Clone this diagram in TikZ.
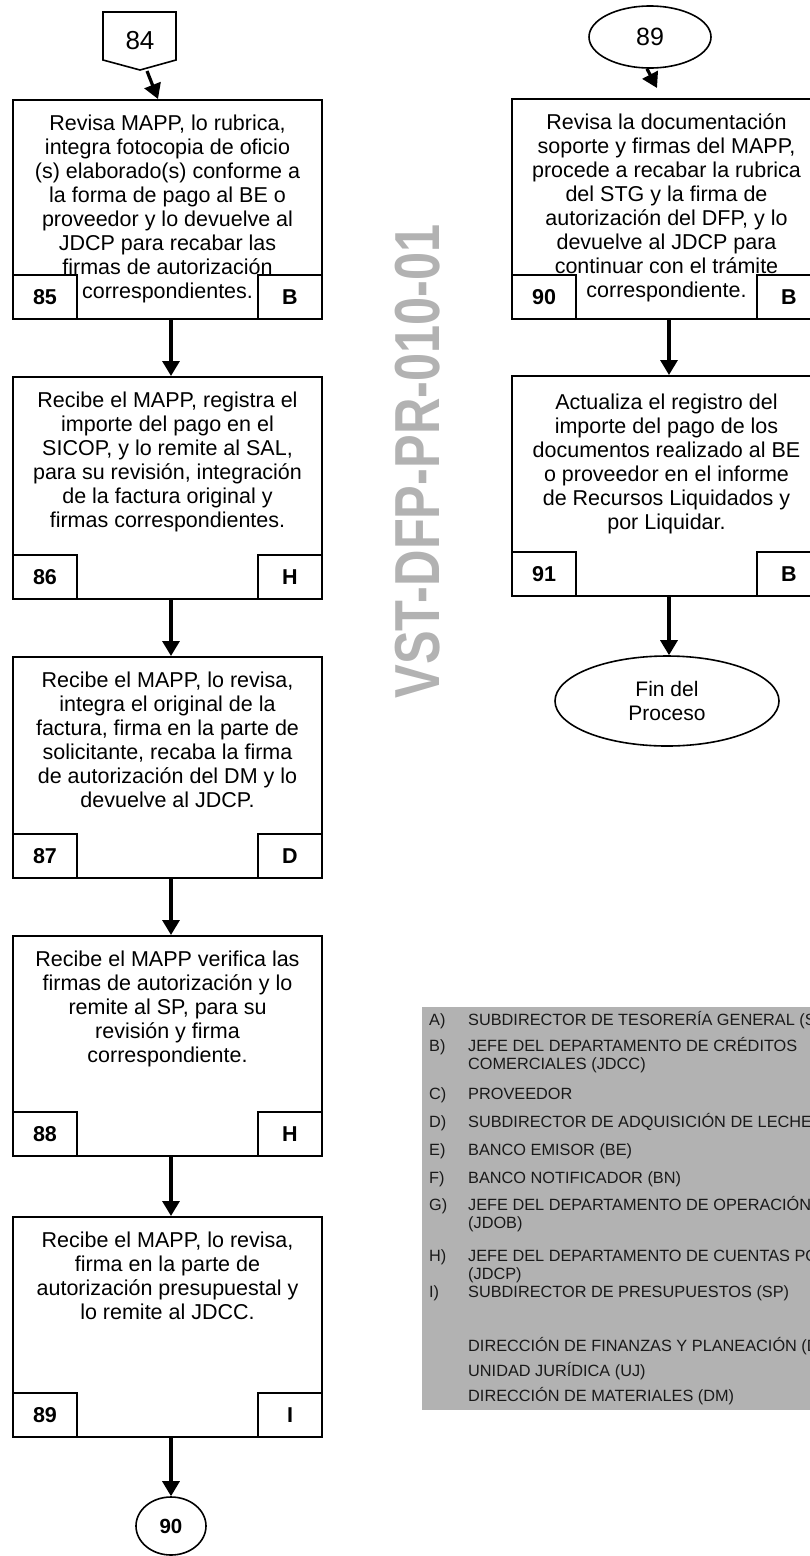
\documentclass[tikz,border=0pt]{standalone}
\usepackage{fontspec}
\usepackage{graphicx}
\setmainfont{Liberation Sans}
\usetikzlibrary{arrows.meta,shapes.geometric}

\definecolor{wmgray}{RGB}{178,178,178}
\definecolor{leggray}{RGB}{178,178,178}
\definecolor{legtext}{RGB}{25,25,25}

\tikzset{
  procbox/.style={draw=black, line width=2pt, rectangle, inner sep=0pt,
    minimum width=309pt, anchor=north west},
  tagbox/.style={draw=black, line width=2pt, rectangle, inner sep=0pt,
    minimum width=64pt, minimum height=44pt,
    font=\fontsize{21.5}{24}\selectfont\bfseries},
  boxtext/.style={align=center, inner sep=0pt, anchor=north,
    font=\fontsize{21.5}{24}\selectfont},
  flow/.style={line width=3.2pt, -{Triangle[width=17pt,length=15pt]}},
  connector/.style={draw=black, ellipse, line width=1.6pt, inner sep=0pt},
  legitem/.style={anchor=base west, inner sep=0pt,
    font=\fontsize{16.3}{18}\selectfont, text=legtext},
}

% #1 name, #2 left x, #3 top y, #4 height, #5 step number,
% #6 responsible letter, #7 text, #8 offset of the text from the top edge
\newcommand\procstep[8]{%
  \node[procbox, minimum height=#4] (#1) at (#2,#3) {};
  \node[tagbox, anchor=south west] (#1-n) at (#1.south west) {#5};
  \node[tagbox, anchor=south east] (#1-r) at (#1.south east) {#6};
  \node[boxtext] (#1-t) at ([yshift=-#8]#1.north) {#7};
}

% #1 name, #2 baseline y, #3 letter, #4 text
\newcommand\legrow[4]{%
  \node[legitem] (#1-l) at (429,#2) {#3};
  \node[legitem] (#1) at (468,#2) {#4};
}
% #1 name, #2 baseline y, #3 text (continuation or unlabelled line)
\newcommand\legtextline[3]{%
  \node[legitem] (#1) at (468,#2) {#3};
}

\begin{document}
\begin{tikzpicture}[x=1pt, y=-1pt]
\useasboundingbox (0,0) rectangle (809,1556);

% document code running down the middle
\node[rotate=90, text=wmgray, inner sep=0pt] (wm) at (417.5,461.5)
  {\scalebox{1.0}[1.26]{\fontsize{50.5}{50}\selectfont\bfseries VST-DFP-PR-010-01}};

% off-page connector 84
\draw[line width=1.6pt, line join=miter] (103,12) -- (176,12) -- (176,60) -- (140,70) -- (103,60) -- cycle;
\node[inner sep=0pt, font=\fontsize{26}{30}\selectfont] (c84) at (140,41) {84};
\coordinate (c84tip) at (147,71);

% left column of steps
\procstep{b85}{12}{99}{219pt}{85}{B}{Revisa MAPP, lo rubrica,\\ integra fotocopia de oficio\\ (s) elaborado(s) conforme a\\ la forma de pago al BE o\\ proveedor y lo devuelve al\\ JDCP para recabar las\\ firmas de autorización\\ correspondientes.}{15.5pt}
\procstep{b86}{12}{376}{222pt}{86}{H}{Recibe el MAPP, registra el\\ importe del pago en el\\ SICOP, y lo remite al SAL,\\ para su revisión, integración\\ de la factura original y\\ firmas correspondientes.}{15.5pt}
\procstep{b87}{12}{656}{221pt}{87}{D}{Recibe el MAPP, lo revisa,\\ integra el original de la\\ factura, firma en la parte de\\ solicitante, recaba la firma\\ de autorización del DM y lo\\ devuelve al JDCP.}{15.5pt}
\procstep{b88}{12}{935}{220pt}{88}{H}{Recibe el MAPP verifica las\\ firmas de autorización y lo\\ remite al SP, para su\\ revisión y firma\\ correspondiente.}{15.5pt}
\procstep{b89}{12}{1216}{220pt}{89}{I}{Recibe el MAPP, lo revisa,\\ firma en la parte de\\ autorización presupuestal y\\ lo remite al JDCC.}{15.5pt}

\node[connector, minimum width=70pt, minimum height=58pt,
  font=\fontsize{20.5}{24}\selectfont\bfseries] (c90) at (171,1526) {90};

% right column
\node[connector, minimum width=122pt, minimum height=62pt,
  font=\fontsize{25}{30}\selectfont] (c89) at (650,37) {89};
\coordinate (c89end) at (657,88);

\procstep{b90}{511}{98}{220pt}{90}{B}{Revisa la documentación\\ soporte y firmas del MAPP,\\ procede a recabar la rubrica\\ del STG y la firma de\\ autorización del DFP, y lo\\ devuelve al JDCP para\\ continuar con el trámite\\ correspondiente.}{15.5pt}
\procstep{b91}{511}{375}{220pt}{91}{B}{Actualiza el registro del\\ importe del pago de los\\ documentos realizado al BE\\ o proveedor en el informe\\ de Recursos Liquidados y\\ por Liquidar.}{18.5pt}

\node[connector, minimum width=224pt, minimum height=90pt, align=center,
  font=\fontsize{21}{24}\selectfont] (fin) at (667,701) {Fin del\\ Proceso};

% flow
\draw[flow] (c84tip) -- ([xshift=-9.5pt]b85.north);
\draw[flow] ([xshift=3.5pt]b85.south) -- ([xshift=3.5pt]b86.north);
\draw[flow] ([xshift=3.5pt]b86.south) -- ([xshift=3.5pt]b87.north);
\draw[flow] ([xshift=3.5pt]b87.south) -- ([xshift=3.5pt]b88.north);
\draw[flow] ([xshift=3.5pt]b88.south) -- ([xshift=3.5pt]b89.north);
\draw[flow] ([xshift=3.5pt]b89.south) -- (c90.north);

\draw[flow] ([xshift=-3pt]c89.south) -- (c89end);
\draw[flow] ([xshift=2.5pt]b90.south) -- ([xshift=2.5pt]b91.north);
\draw[flow] ([xshift=2.5pt]b91.south) -- ([xshift=2pt]fin.north);

% legend of responsible parties
\node[fill=leggray, inner sep=0pt, minimum width=408pt, minimum height=403pt,
  anchor=north west] (legend) at (422,1007) {};
\legrow{la}{1025.6}{A)}{SUBDIRECTOR DE TESORERÍA GENERAL (STG)}
\legrow{lb}{1051.6}{B)}{JEFE DEL DEPARTAMENTO DE CRÉDITOS}
\legtextline{lb2}{1069.6}{COMERCIALES (JDCC)}
\legrow{lc}{1099.6}{C)}{PROVEEDOR}
\legrow{ld}{1127.6}{D)}{SUBDIRECTOR DE ADQUISICIÓN DE LECHE (SAL)}
\legrow{le}{1155.6}{E)}{BANCO EMISOR (BE)}
\legrow{lf}{1183.6}{F)}{BANCO NOTIFICADOR (BN)}
\legrow{lg}{1210.6}{G)}{JEFE DEL DEPARTAMENTO DE OPERACIÓN}
\legtextline{lg2}{1228.6}{(JDOB)}
\legrow{lh}{1261.6}{H)}{JEFE DEL DEPARTAMENTO DE CUENTAS POR PAGAR}
\legtextline{lh2}{1279.6}{(JDCP)}
\legrow{li}{1297.6}{I)}{SUBDIRECTOR DE PRESUPUESTOS (SP)}
\legtextline{ldfp}{1351.6}{DIRECCIÓN DE FINANZAS Y PLANEACIÓN (DFP)}
\legtextline{luj}{1376.6}{UNIDAD JURÍDICA (UJ)}
\legtextline{ldm}{1401.6}{DIRECCIÓN DE MATERIALES (DM)}
\end{tikzpicture}
\end{document}
